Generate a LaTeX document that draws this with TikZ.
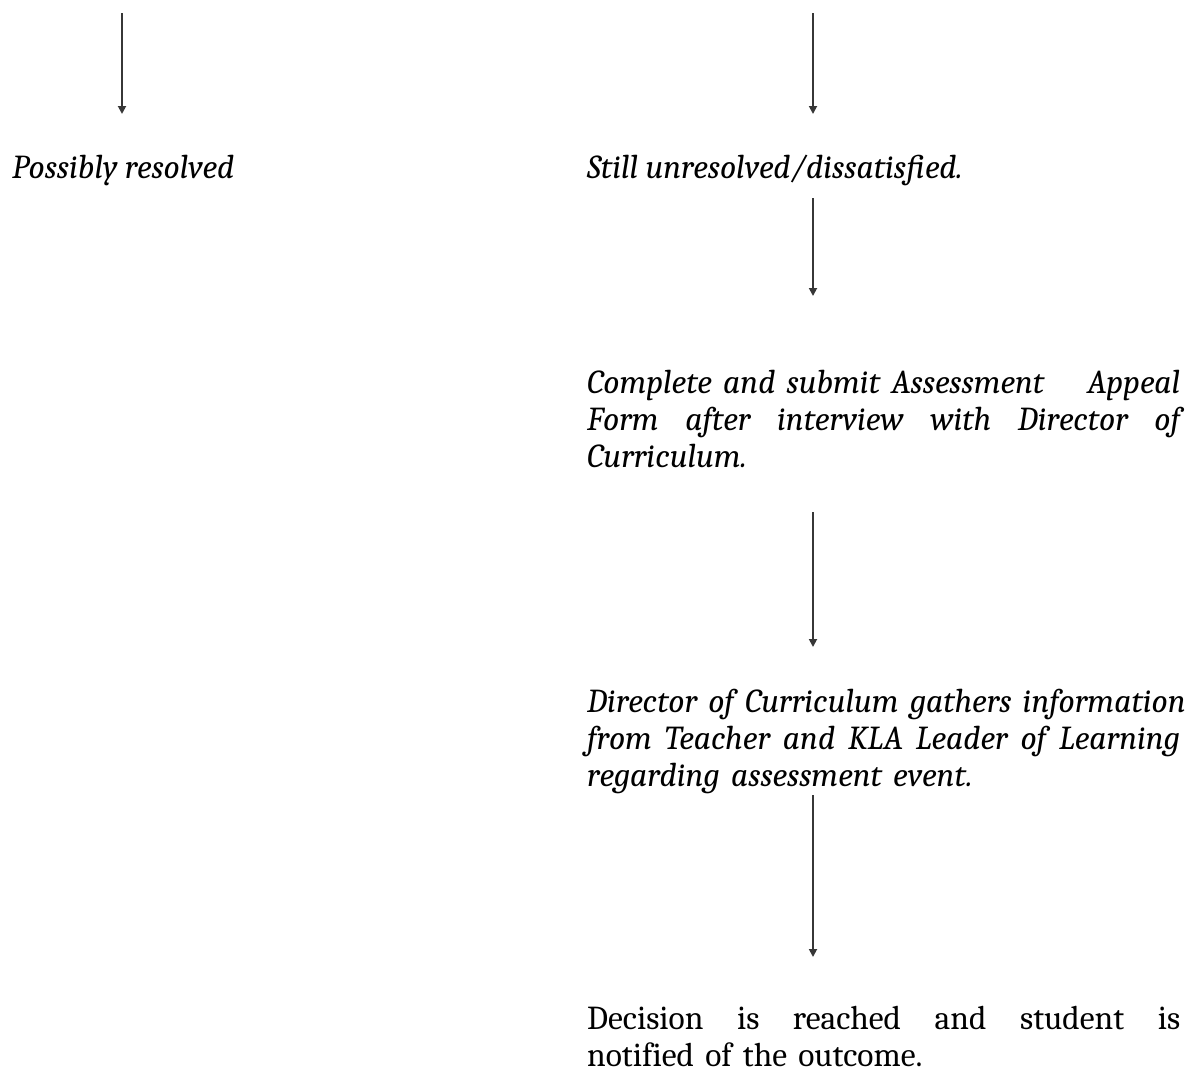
\documentclass[tikz,border=0pt]{standalone}
\usepackage{fontspec}
\setmainfont{Caladea}
\usetikzlibrary{arrows.meta}
\definecolor{arrowGrey}{RGB}{55,55,55}
\newcommand{\colw}{593pt}
\newcommand{\fullline}[1]{\makebox[\colw][l]{#1}}

\begin{document}
\begin{tikzpicture}[x=1pt,y=-1pt,
    txt/.style={inner sep=0pt, anchor=base west,
                font=\fontsize{33.5}{37}\selectfont\itshape},
    para/.style={txt, text width=\colw, align=left},
    plain/.style={para, font=\fontsize{33.5}{37}\selectfont\upshape},
    arr/.style={-{Triangle[length=8pt,width=8pt]},
                line width=1.8pt, arrowGrey}]
  \useasboundingbox (0,0) rectangle (1186,1071);
  % outcomes of the first talk
  \node[txt] (resolved) at (12,178) {Possibly resolved};
  \node[txt] (unresolved) at (587,178) {Still unresolved/dissatisfied.};
  \node[para] (appeal) at (587,393)
    {\fullline{Complete and submit Assessment\hfill Appeal}\\
     \fullline{Form\hfill after\hfill interview\hfill with\hfill
               Director\hfill of}\\
     Curriculum.};
  \node[para] (gather) at (587,712)
    {\fullline{Director of Curriculum gathers information}\\
     \fullline{from\hfill Teacher\hfill and\hfill KLA\hfill Leader\hfill
               of\hfill Learning}\\
     regarding assessment event.};
  \node[plain] (decision) at (587,1029)
    {\fullline{Decision\hfill is\hfill reached\hfill and\hfill
               student\hfill is}\\
     notified of the outcome.};
  % arrow ends
  \coordinate (l0) at (122,13);   \coordinate (l1) at (122,114);
  \coordinate (r0) at (813,13);   \coordinate (r1) at (813,114);
  \coordinate (r2) at (813,198);  \coordinate (r3) at (813,296);
  \coordinate (r4) at (813,512);  \coordinate (r5) at (813,647);
  \coordinate (r6) at (813,795);  \coordinate (r7) at (813,957);
  \draw[arr] (l0) -- (l1);
  \draw[arr] (r0) -- (r1);
  \draw[arr] (r2) -- (r3);
  \draw[arr] (r4) -- (r5);
  \draw[arr] (r6) -- (r7);
\end{tikzpicture}
\end{document}
